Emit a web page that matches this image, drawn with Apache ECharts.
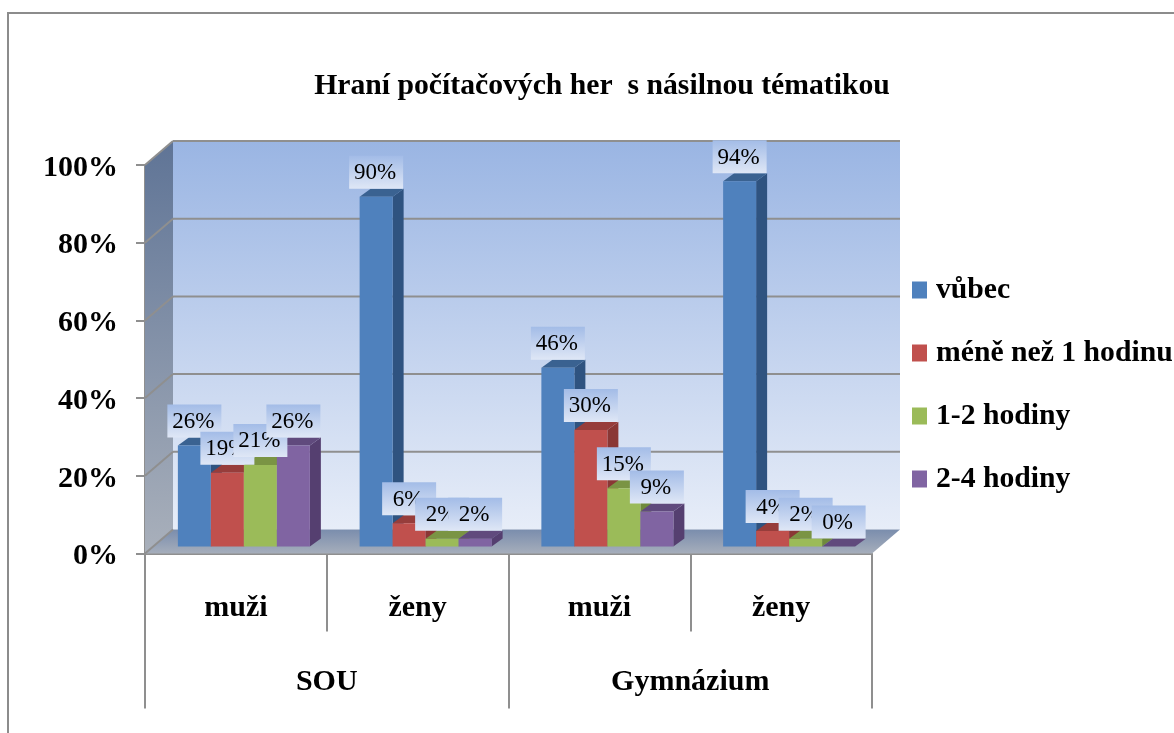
<!DOCTYPE html>
<html>
<head>
<meta charset="utf-8">
<style>
  html, body { margin: 0; padding: 0; background: #fff; }
  #main { width: 1174px; height: 733px; }
</style>
<script src="https://cdn.jsdelivr.net/npm/echarts@6/dist/echarts.min.js"></script>
</head>
<body>
<div id="main"></div>
<script>
  // hodnoty
  var groups = ['muži', 'ženy', 'muži', 'ženy'];
  var schools = ['SOU', 'Gymnázium'];
  var seriesNames = ['vůbec', 'méně než 1 hodinu', '1-2 hodiny', '2-4 hodiny'];
  var vubec = [26, 90, 46, 94];
  var meneNez1 = [19, 6, 30, 4];
  var hodiny12 = [21, 2, 15, 2];
  var hodiny24 = [26, 2, 9, 0];
  var yTicks = [0, 20, 40, 60, 80, 100];

  var frontColors = ['#4f81bd', '#c0504d', '#9bbb59', '#8064a2'];
  var sideColors = ['#2f5380', '#8a3735', '#6f8a3c', '#553f70'];
  var topColors = ['#3a6291', '#973d3b', '#7a9444', '#604a7d'];

  var FONT = '"Liberation Serif", "Times New Roman", serif';
  var WALL_DX = 28, WALL_DY = 24;  // hloubka stěn
  var BAR_DX = 11, BAR_DY = 8;     // hloubka sloupce
  var FLOOR_DX = 8, FLOOR_DY = 7;  // posun sloupců od předního okraje
  var BAR_W = 33;
  var LABEL_W = 54, LABEL_H = 33;

  function gradient(a, b) {
    return new echarts.graphic.LinearGradient(0, 0, 0, 1, [
      { offset: 0, color: a },
      { offset: 1, color: b }
    ]);
  }

  function poly(points, fill, z2) {
    return { type: 'polygon', shape: { points: points }, style: { fill: fill }, z2: z2 || 0 };
  }

  function line(x1, y1, x2, y2) {
    return {
      type: 'line',
      shape: { x1: x1, y1: y1, x2: x2, y2: y2 },
      style: { stroke: '#8f8f8f', lineWidth: 2 },
      z2: 2
    };
  }

  // stěny, podlaha a mřížka
  function renderWall(params, api) {
    var tick = api.value(0);
    var p = api.coord([0, tick]);
    var left = p[0] - api.size([1, 0])[0] / 2;
    var right = left + api.size([1, 0])[0] * groups.length;
    var y = p[1];
    var children = [];
    if (params.dataIndex === 0) {
      var top = api.coord([0, 100])[1];
      children.push(poly([[left + WALL_DX, top - WALL_DY], [right + WALL_DX, top - WALL_DY], [right + WALL_DX, y - WALL_DY], [left + WALL_DX, y - WALL_DY]], gradient('#9ab5e3', '#e7edf8')));
      children.push(poly([[left, top], [left + WALL_DX, top - WALL_DY], [left + WALL_DX, y - WALL_DY], [left, y]], gradient('#5f7496', '#a9b0bb')));
      children.push(poly([[left, y], [right, y], [right + WALL_DX, y - WALL_DY], [left + WALL_DX, y - WALL_DY]], gradient('#7a8dad', '#a6aebb'), 1));
    }
    children.push(line(left, y, left + WALL_DX, y - WALL_DY));
    if (tick > 0) {
      children.push(line(left + WALL_DX, y - WALL_DY, right + WALL_DX, y - WALL_DY));
    }
    return { type: 'group', children: children };
  }

  // 3D sloupec s popiskem
  function renderBar(seriesIdx) {
    return function (params, api) {
      var cat = api.value(0);
      var val = api.value(1);
      var cx = api.coord([cat, 0])[0] + FLOOR_DX + (seriesIdx - 1.5) * BAR_W;
      var y0 = api.coord([cat, 0])[1] - FLOOR_DY;
      var y1 = api.coord([cat, val])[1] - FLOOR_DY;
      var x0 = cx - BAR_W / 2;
      var x1 = cx + BAR_W / 2;
      var labelBottom = y1 - BAR_DY;
      var labelZ = 100 + seriesIdx * 2;
      return {
        type: 'group',
        children: [
          poly([[x1, y0], [x1 + BAR_DX, y0 - BAR_DY], [x1 + BAR_DX, y1 - BAR_DY], [x1, y1]], sideColors[seriesIdx], 10),
          poly([[x0, y1], [x1, y1], [x1 + BAR_DX, y1 - BAR_DY], [x0 + BAR_DX, y1 - BAR_DY]], topColors[seriesIdx], 10),
          poly([[x0, y0], [x1, y0], [x1, y1], [x0, y1]], frontColors[seriesIdx], 10),
          {
            type: 'rect',
            shape: { x: cx - LABEL_W / 2, y: labelBottom - LABEL_H, width: LABEL_W, height: LABEL_H },
            style: { fill: gradient('#a3bce7', '#dfe7f6') },
            z2: labelZ
          },
          {
            type: 'text',
            style: {
              text: val + '%',
              x: cx - 1,
              y: labelBottom - LABEL_H / 2 + 1,
              align: 'center',
              verticalAlign: 'middle',
              font: '23px ' + FONT,
              fill: '#000'
            },
            z2: labelZ + 1
          }
        ]
      };
    };
  }

  function barSeries(idx, values) {
    return {
      name: seriesNames[idx],
      type: 'custom',
      renderItem: renderBar(idx),
      encode: { x: 0, y: 1 },
      itemStyle: { color: frontColors[idx] },
      data: values.map(function (v, i) { return [i, v]; }),
      z: 3
    };
  }

  var myChart = echarts.init(document.getElementById('main'));
  myChart.setOption({
    animation: false,
    backgroundColor: '#fff',
    title: {
      text: 'Hraní počítačových her  s násilnou tématikou',
      left: 597,
      textAlign: 'center',
      top: 66,
      textStyle: { fontFamily: FONT, fontSize: 29.7, fontWeight: 'bold', color: '#000' }
    },
    legend: {
      data: seriesNames,
      orient: 'vertical',
      left: 912,
      top: 275,
      padding: 0,
      icon: 'rect',
      itemWidth: 15,
      itemHeight: 17,
      itemGap: 33,
      selectedMode: false,
      textStyle: { fontFamily: FONT, fontSize: 29.7, fontWeight: 'bold', color: '#000', padding: [0, 0, 0, 4] }
    },
    grid: { left: 145, right: 302, top: 165, bottom: 179.5 },
    xAxis: [{
      type: 'category',
      data: groups,
      position: 'bottom',
      axisLine: { show: true, lineStyle: { color: '#8f8f8f', width: 2 } },
      axisTick: { show: true, length: 78, interval: 0, alignWithLabel: false, lineStyle: { color: '#8f8f8f', width: 2 } },
      axisLabel: { interval: 0, margin: 40, color: '#000', fontFamily: FONT, fontSize: 30, fontWeight: 'bold' }
    }, {
      type: 'category',
      data: schools,
      position: 'bottom',
      axisLine: { show: false },
      axisTick: { show: true, length: 155, interval: 0, alignWithLabel: false, lineStyle: { color: '#8f8f8f', width: 2 } },
      axisLabel: { interval: 0, margin: 114, color: '#000', fontFamily: FONT, fontSize: 30, fontWeight: 'bold' }
    }],
    yAxis: {
      type: 'value',
      min: 0,
      max: 100,
      interval: 20,
      axisLine: { show: true, lineStyle: { color: '#8f8f8f', width: 2 } },
      axisTick: { show: true, length: 9, lineStyle: { color: '#8f8f8f', width: 2 } },
      splitLine: { show: false },
      axisLabel: {
        margin: 27,
        formatter: '{pct|{value}%}',
        rich: {
          pct: {
            padding: [6, 0, 0, 0],
            color: '#000',
            fontFamily: FONT,
            fontSize: 30,
            fontWeight: 'bold'
          }
        }
      }
    },
    graphic: [{
      type: 'polyline',
      shape: { points: [[8, 733], [8, 13], [1174, 13]] },
      style: { stroke: '#8c8c8c', lineWidth: 2, fill: null }
    }],
    series: [{
      name: 'walls',
      type: 'custom',
      renderItem: renderWall,
      encode: { y: 0 },
      data: yTicks.map(function (t) { return [t]; }),
      z: 1
    },
      barSeries(0, vubec),
      barSeries(1, meneNez1),
      barSeries(2, hodiny12),
      barSeries(3, hodiny24)
    ]
  });
</script>
</body>
</html>
